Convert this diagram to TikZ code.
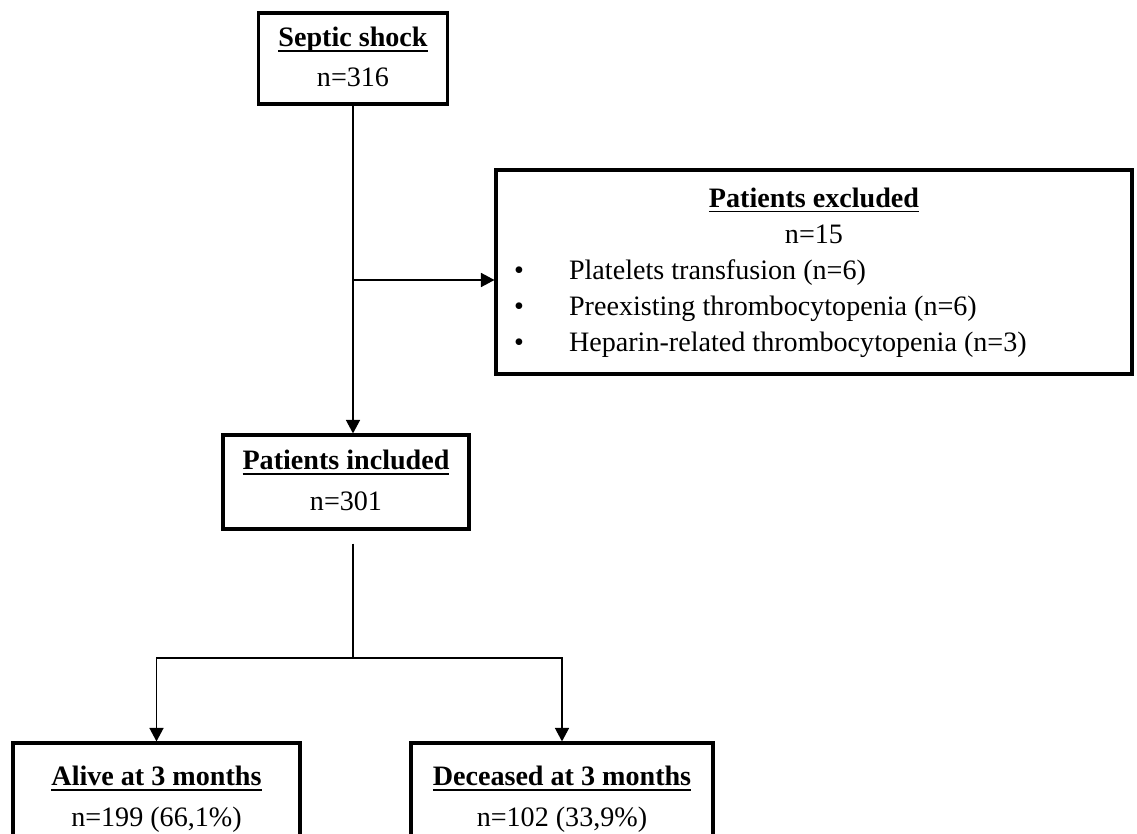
\documentclass[tikz,border=0pt]{standalone}
\usepackage{fontspec}
\setmainfont{Liberation Serif}
\newsavebox{\headbox}
\newcommand{\headline}[1]{\sbox{\headbox}{\textbf{#1}}\rlap{\rule[-3pt]{\wd\headbox}{1.1pt}}\usebox{\headbox}}
\usepackage{tikz}
\usetikzlibrary{arrows.meta,positioning,calc}

\begin{document}
\begin{tikzpicture}[x=0.02cm,y=-0.02cm,
    box/.style={rectangle,draw,line width=1.8pt,inner sep=0pt,font=\fontsize{16}{23}\selectfont},
    arr/.style={-{Triangle[length=0.27cm,width=0.28cm]},line width=0.9pt}]
    \useasboundingbox[fill=white] (0,0) rectangle (1137,834);

    % Septic shock
    \node[box,minimum width=3.78cm,minimum height=1.82cm] (septic) at (353,58.5) {
        \begin{tabular}{c}
        \headline{Septic shock} \\
        n=316
        \end{tabular}
    };

    % Excluded
    \node[box,minimum width=12.72cm,minimum height=4.08cm,font=\fontsize{16}{20.5}\selectfont] (excl) at (814,272) {
        \begin{tabular}{@{\hspace{0.36cm}}p{1.1cm}@{}p{11.26cm}@{}}
        \multicolumn{2}{@{}c@{}}{\headline{Patients excluded}} \\
        \multicolumn{2}{@{}c@{}}{n=15} \\
        \textbullet & Platelets transfusion (n=6) \\
        \textbullet & Preexisting thrombocytopenia (n=6) \\
        \textbullet & Heparin-related thrombocytopenia (n=3)
        \end{tabular}
    };

    % Included
    \node[box,minimum width=4.92cm,minimum height=1.88cm] (incl) at (346,482) {
        \begin{tabular}{c}
        \headline{Patients included} \\
        n=301
        \end{tabular}
    };

    % Alive
    \node[box,minimum width=5.74cm,minimum height=2.2cm] (alive) at (156.5,798) {
        \begin{tabular}{c}
        \headline{Alive at 3 months} \\
        n=199 (66,1\%)
        \end{tabular}
    };

    % Deceased
    \node[box,minimum width=6.04cm,minimum height=2.2cm] (dead) at (562,798) {
        \begin{tabular}{c}
        \headline{Deceased at 3 months} \\
        n=102 (33,9\%)
        \end{tabular}
    };

    % Arrows
    \coordinate (fork) at (353,280);
    \coordinate (split) at (353,658);
    \draw[arr] (septic.south) -- (septic.south |- incl.north);
    \draw[arr] (fork) -- (fork -| excl.west);
    \draw[line width=0.9pt,shorten <=0.26cm] (incl.south -| split) -- (split);
    \draw[arr] (split) -- (split -| alive.north) -- (alive.north);
    \draw[arr] (split) -- (split -| dead.north) -- (dead.north);
\end{tikzpicture}
\end{document}
